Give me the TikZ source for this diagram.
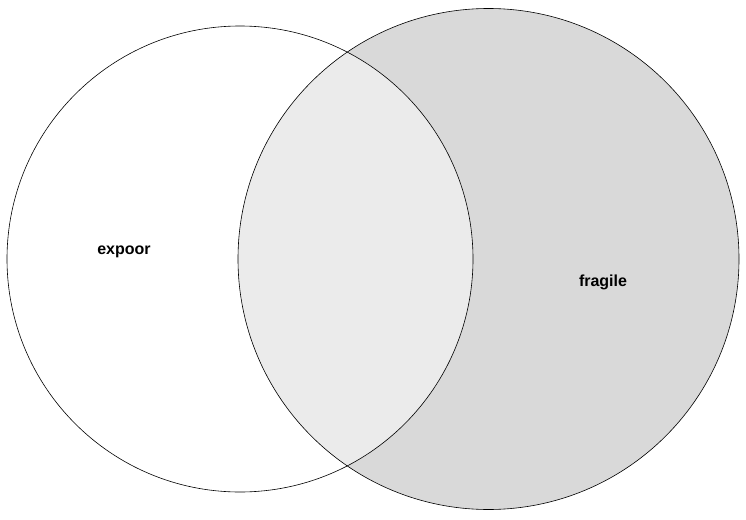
\documentclass[tikz,border=0pt]{standalone}
\usepackage{fontspec}
\setmainfont{Liberation Sans}
\usetikzlibrary{positioning}
\definecolor{setgray}{HTML}{D9D9D9}
\definecolor{overlapgray}{HTML}{EBEBEB}
\tikzset{%
setcircle/.style={draw,line width=0.6pt,shape=circle,inner sep=0pt},
setlabel/.style={font=\fontsize{16}{19}\selectfont\bfseries,inner sep=0pt},
}

\begin{document}
\begin{tikzpicture}[x=1pt,y=-1pt]
 \useasboundingbox (0,0) rectangle (746,519);
 \fill[white] (0,0) rectangle (746,519);
 \fill[setgray] (488.5,259) circle (250.5);
 \begin{scope}
  \clip (240,259) circle (233);
  \fill[overlapgray] (488.5,259) circle (250.5);
 \end{scope}
 \node[setcircle,minimum size=466pt] (E) at (240,259) {};
 \node[setcircle,minimum size=501pt] (F) at (488.5,259) {};
 \node[setlabel] (expoor) at (124,252) {expoor};
 \node[setlabel] (fragile) at (603,282) {fragile};
\end{tikzpicture}
\end{document}
